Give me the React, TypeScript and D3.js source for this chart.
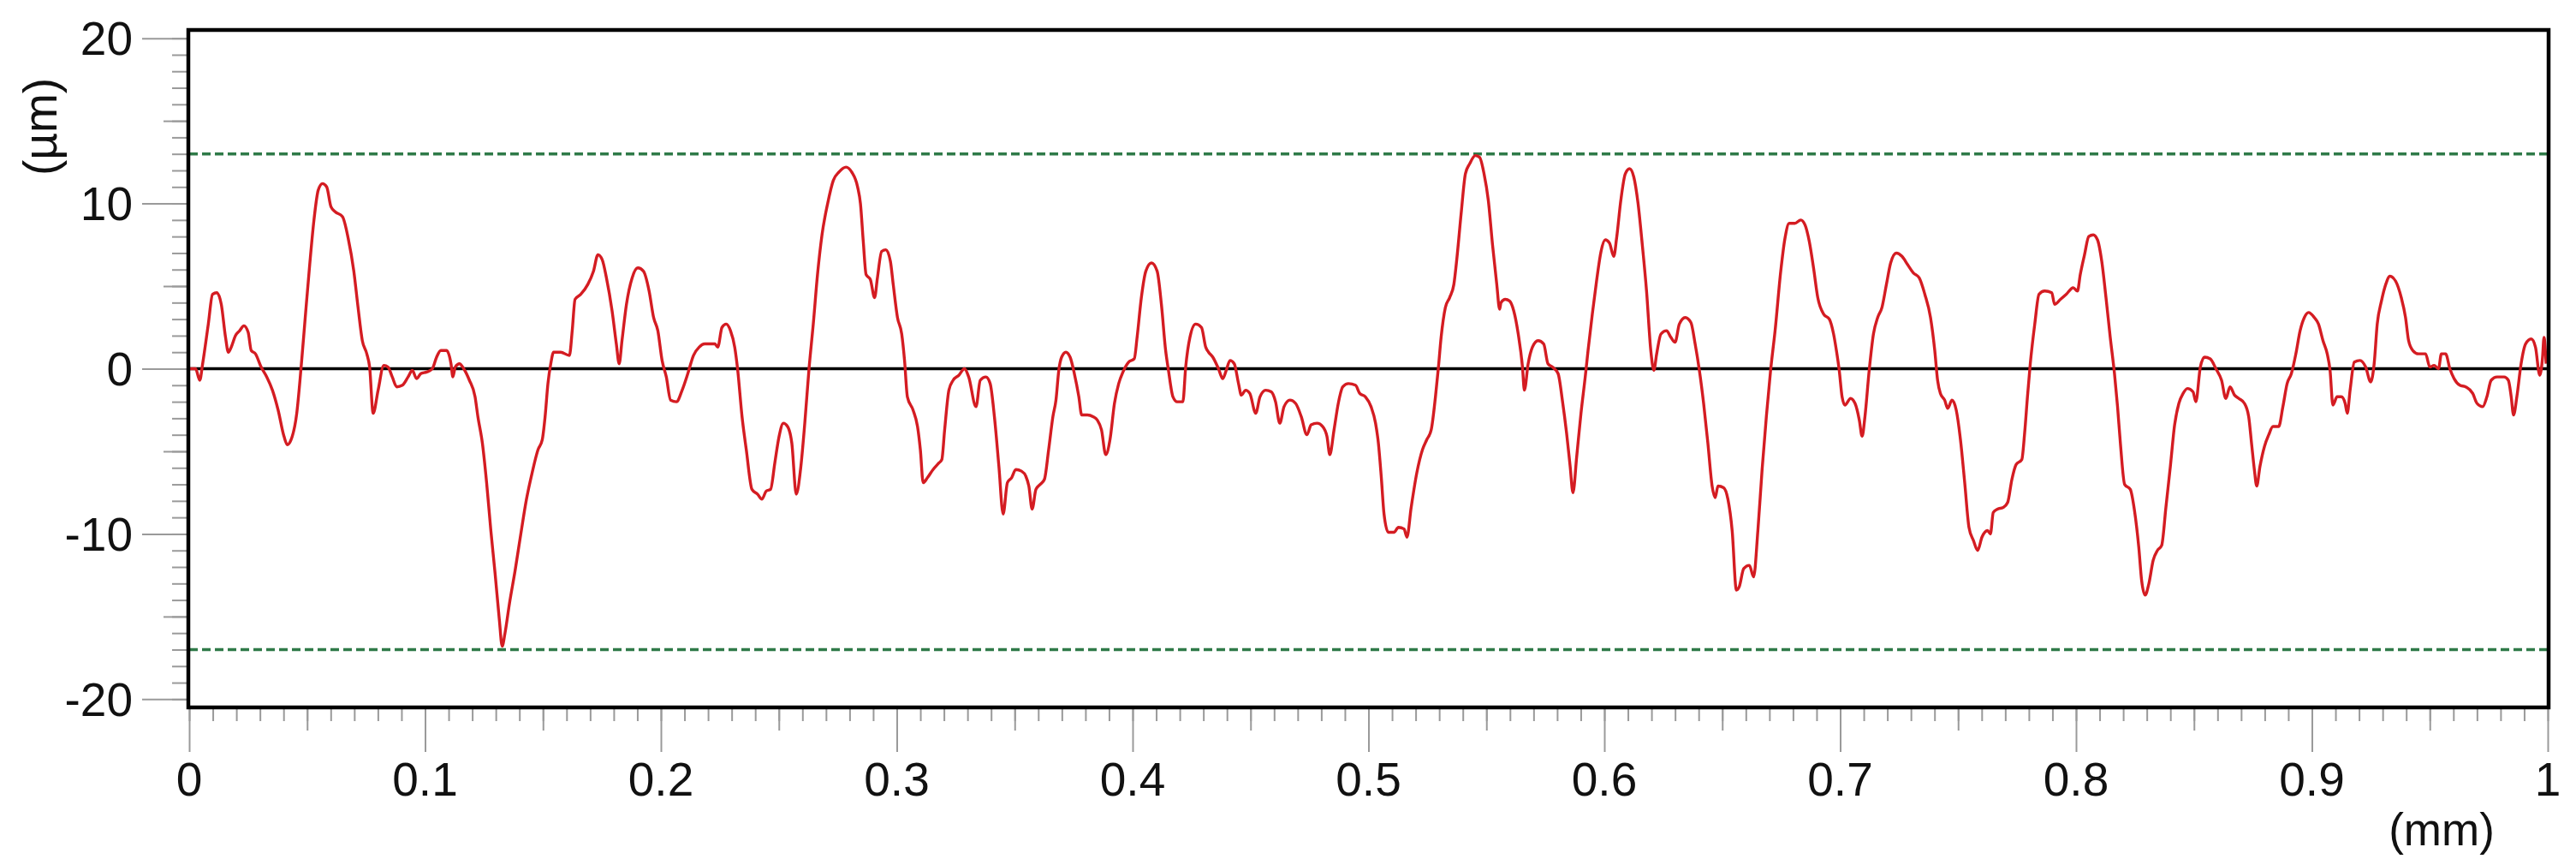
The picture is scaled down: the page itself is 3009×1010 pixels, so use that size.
import * as d3 from 'd3';
import React, { useEffect } from 'react';

// roughness profile, x in mm, height in µm
const profile: [number, number][] = [
  [0, 0], [0.0027, 0], [0.0045, -0.7], [0.0057, 0.3], [0.0081, 2.7], [0.0099, 4.5], [0.0117, 4.6], [0.0136, 3.9],
  [0.0154, 1.9], [0.0166, 1.0], [0.0178, 1.3], [0.0196, 2.0], [0.0214, 2.3], [0.0232, 2.6], [0.025, 2.2], [0.0263, 1.1],
  [0.0281, 0.9], [0.0305, 0.1], [0.0329, -0.5], [0.0353, -1.3], [0.0377, -2.5], [0.0402, -4.1], [0.0416, -4.6], [0.0432, -4.3],
  [0.0456, -2.7], [0.0474, 0], [0.0492, 3.1], [0.0511, 6.3], [0.0529, 9.0], [0.0547, 10.8], [0.0565, 11.2], [0.0583, 11.0],
  [0.0601, 9.8], [0.0619, 9.5], [0.065, 9.2], [0.0674, 7.9], [0.0698, 5.9], [0.0716, 3.7], [0.0734, 1.7], [0.0753, 0.9],
  [0.0765, 0.1], [0.078, -2.7], [0.0801, -1.3], [0.0825, 0.2], [0.0843, 0.1], [0.0861, -0.5], [0.088, -1.1], [0.0904, -1.0],
  [0.0928, -0.5], [0.0946, -0.1], [0.0964, -0.6], [0.0982, -0.3], [0.1007, -0.2], [0.1031, 0], [0.1049, 0.7], [0.1067, 1.1],
  [0.1091, 1.1], [0.111, 0.3], [0.1118, -0.5], [0.1128, 0.1], [0.1146, 0.3], [0.1164, 0], [0.1188, -0.7], [0.1212, -1.7],
  [0.1224, -2.9], [0.1243, -4.5], [0.1261, -6.9], [0.1279, -9.8], [0.1297, -12.4], [0.1315, -15.2], [0.1327, -16.8], [0.1339, -16.0],
  [0.1358, -14.2], [0.1382, -12.2], [0.1406, -10.0], [0.143, -7.9], [0.1454, -6.3], [0.1479, -4.9], [0.1497, -4.3], [0.1509, -2.9],
  [0.1521, -0.9], [0.1533, 0.3], [0.1545, 1.0], [0.1575, 1.0], [0.1612, 0.8], [0.1624, 2.3], [0.1636, 4.2], [0.166, 4.5],
  [0.169, 5.1], [0.1714, 5.9], [0.1733, 6.9], [0.1751, 6.6], [0.1769, 5.5], [0.1793, 3.5], [0.1811, 1.5], [0.1823, 0.3],
  [0.1835, 1.7], [0.1854, 3.9], [0.1878, 5.5], [0.1902, 6.1], [0.1926, 5.9], [0.195, 4.7], [0.1969, 3.1], [0.1987, 2.3],
  [0.2005, 0.5], [0.2023, -0.5], [0.2041, -1.9], [0.2066, -2.0], [0.209, -1.3], [0.2114, -0.3], [0.2138, 0.8], [0.2162, 1.3],
  [0.2186, 1.5], [0.2229, 1.5], [0.2241, 1.3], [0.2259, 2.5], [0.2277, 2.7], [0.2295, 2.3], [0.2313, 1.3], [0.2325, 0],
  [0.2344, -2.9], [0.2362, -4.9], [0.2386, -7.3], [0.241, -7.6], [0.2428, -7.9], [0.2447, -7.4], [0.2465, -7.3], [0.2483, -5.7],
  [0.2501, -4.1], [0.2519, -3.3], [0.2537, -3.5], [0.2555, -4.5], [0.2574, -7.6], [0.2592, -6.1], [0.261, -3.3], [0.2628, 0],
  [0.2646, 2.7], [0.2664, 5.7], [0.2683, 8.1], [0.2707, 10.0], [0.2731, 11.4], [0.2755, 11.9], [0.2785, 12.2], [0.2809, 11.9],
  [0.2834, 11.0], [0.2846, 10.0], [0.2858, 7.7], [0.287, 5.7], [0.2888, 5.4], [0.2906, 4.3], [0.2918, 5.5], [0.2936, 7.1],
  [0.2954, 7.2], [0.2973, 6.5], [0.2985, 5.1], [0.3003, 3.1], [0.3021, 2.1], [0.3033, 0.5], [0.3045, -1.7], [0.3069, -2.5],
  [0.3088, -3.5], [0.31, -4.9], [0.3112, -6.9], [0.313, -6.6], [0.3154, -6.1], [0.3179, -5.7], [0.3191, -5.5], [0.3203, -3.7],
  [0.3221, -1.3], [0.3239, -0.7], [0.3263, -0.4], [0.3287, 0], [0.3305, -0.5], [0.3336, -2.3], [0.3354, -0.7], [0.3378, -0.5],
  [0.3396, -0.9], [0.3414, -2.9], [0.3433, -5.9], [0.3451, -8.8], [0.3469, -6.9], [0.3487, -6.6], [0.3505, -6.1], [0.3529, -6.2],
  [0.3547, -6.5], [0.356, -7.1], [0.3574, -8.5], [0.359, -7.3], [0.3608, -7.0], [0.3626, -6.7], [0.3644, -4.9], [0.3662, -2.9],
  [0.3675, -1.9], [0.3687, -0.1], [0.3699, 0.7], [0.3717, 1.0], [0.3735, 0.7], [0.3753, -0.3], [0.3772, -1.7], [0.3784, -2.8],
  [0.3808, -2.8], [0.3832, -2.9], [0.385, -3.1], [0.3868, -3.7], [0.3886, -5.2], [0.3904, -4.3], [0.3923, -2.1], [0.3941, -0.9],
  [0.3959, -0.2], [0.3983, 0.4], [0.4007, 0.6], [0.4019, 1.9], [0.4037, 4.3], [0.4056, 5.9], [0.408, 6.4], [0.4104, 5.9],
  [0.4122, 3.9], [0.414, 1.1], [0.4152, -0.1], [0.4171, -1.7], [0.4189, -2.0], [0.4213, -2.0], [0.4225, 0.1], [0.4243, 1.9],
  [0.4267, 2.7], [0.4292, 2.5], [0.431, 1.3], [0.4322, 1.0], [0.434, 0.7], [0.4364, 0], [0.4382, -0.6], [0.4397, -0.1],
  [0.4413, 0.5], [0.4431, 0.3], [0.4449, -0.9], [0.4461, -1.6], [0.4479, -1.3], [0.4497, -1.5], [0.4522, -2.7], [0.454, -1.7],
  [0.4564, -1.3], [0.4588, -1.4], [0.4606, -2.0], [0.4624, -3.3], [0.4642, -2.3], [0.4667, -1.9], [0.4691, -2.1], [0.4715, -2.9],
  [0.4739, -4.0], [0.4757, -3.4], [0.4782, -3.3], [0.4806, -3.5], [0.4824, -4.1], [0.4836, -5.2], [0.4854, -3.7], [0.4872, -2.1],
  [0.4891, -1.1], [0.4915, -0.9], [0.4945, -1.0], [0.4963, -1.5], [0.4987, -1.7], [0.5011, -2.3], [0.503, -3.3], [0.5042, -4.5],
  [0.5054, -6.5], [0.5066, -8.8], [0.5084, -9.9], [0.5108, -9.9], [0.5127, -9.6], [0.5151, -9.7], [0.5163, -10.2], [0.5181, -8.4],
  [0.5205, -6.3], [0.5229, -4.9], [0.5247, -4.3], [0.5266, -3.7], [0.5284, -1.7], [0.5296, 0], [0.5308, 1.9], [0.5326, 3.7],
  [0.5344, 4.3], [0.5362, 5.1], [0.5375, 6.7], [0.5393, 9.4], [0.5411, 11.8], [0.5429, 12.4], [0.5453, 12.9], [0.5471, 12.8],
  [0.549, 11.8], [0.5508, 10.2], [0.5526, 7.5], [0.5544, 5.1], [0.5556, 3.6], [0.5562, 4.0], [0.558, 4.2], [0.5598, 4.1],
  [0.5616, 3.5], [0.5635, 2.1], [0.5653, 0.1], [0.5661, -1.3], [0.5677, 0.3], [0.5695, 1.3], [0.5719, 1.7], [0.5743, 1.5],
  [0.5761, 0.3], [0.578, 0.1], [0.5804, -0.3], [0.5822, -1.9], [0.584, -3.9], [0.5855, -5.9], [0.5867, -7.5], [0.5883, -5.3],
  [0.5901, -2.7], [0.5919, -0.5], [0.5931, 1.1], [0.5949, 3.3], [0.5967, 5.3], [0.5986, 7.1], [0.6004, 7.8], [0.6022, 7.6],
  [0.604, 6.8], [0.6052, 7.9], [0.607, 10.2], [0.6089, 11.8], [0.6107, 12.1], [0.6125, 11.6], [0.6143, 10.0], [0.6161, 7.5],
  [0.6179, 4.7], [0.6197, 1.1], [0.621, -0.1], [0.6222, 0.9], [0.624, 2.1], [0.6264, 2.3], [0.6282, 1.9], [0.63, 1.6],
  [0.6318, 2.7], [0.6343, 3.1], [0.6367, 2.8], [0.6385, 1.5], [0.6403, -0.1], [0.6421, -2.1], [0.6439, -4.5], [0.6457, -7.1],
  [0.647, -7.8], [0.6482, -7.1], [0.6506, -7.2], [0.6524, -7.9], [0.6542, -9.8], [0.656, -13.4], [0.6572, -13.2], [0.6591, -12.1],
  [0.6615, -11.9], [0.6633, -12.6], [0.6651, -9.8], [0.6669, -6.1], [0.6687, -2.9], [0.6705, -0.1], [0.6724, 2.3], [0.6748, 5.9],
  [0.6766, 7.9], [0.6784, 8.8], [0.6808, 8.8], [0.6833, 9.0], [0.6851, 8.7], [0.6869, 7.7], [0.6887, 6.1], [0.6905, 4.3],
  [0.693, 3.3], [0.6954, 3.0], [0.6972, 2.1], [0.6984, 1.1], [0.6996, -0.1], [0.7008, -1.7], [0.702, -2.2], [0.7044, -1.8],
  [0.7063, -2.1], [0.7081, -3.1], [0.7093, -4.1], [0.7105, -2.9], [0.7123, -0.1], [0.7141, 2.1], [0.7159, 3.1], [0.7177, 3.7],
  [0.7196, 5.1], [0.7214, 6.4], [0.7238, 7.0], [0.7262, 6.8], [0.7286, 6.3], [0.731, 5.8], [0.7335, 5.5], [0.7359, 4.5],
  [0.7383, 3.1], [0.7401, 1.1], [0.7413, -0.7], [0.7425, -1.5], [0.7443, -1.9], [0.7456, -2.4], [0.7474, -1.9], [0.7492, -2.5],
  [0.751, -4.3], [0.7528, -6.9], [0.7546, -9.6], [0.7565, -10.4], [0.7583, -11.0], [0.7601, -10.2], [0.7625, -9.8], [0.7637, -10.0],
  [0.7649, -8.7], [0.7667, -8.5], [0.7691, -8.4], [0.771, -8.1], [0.7728, -6.7], [0.7746, -5.8], [0.777, -5.5], [0.7782, -3.9],
  [0.7794, -1.7], [0.7806, 0.3], [0.7825, 2.7], [0.7843, 4.5], [0.7867, 4.7], [0.7897, 4.6], [0.7909, 3.9], [0.7934, 4.2],
  [0.7958, 4.5], [0.7988, 4.9], [0.8006, 4.7], [0.8018, 5.7], [0.8036, 6.9], [0.8054, 8.0], [0.8073, 8.1], [0.8091, 7.8],
  [0.8109, 6.5], [0.8127, 4.3], [0.8145, 1.9], [0.8163, -0.3], [0.8176, -2.3], [0.8188, -4.5], [0.8206, -7.0], [0.823, -7.3],
  [0.8248, -8.6], [0.8266, -10.8], [0.8278, -12.8], [0.8293, -13.7], [0.8309, -13.0], [0.8327, -11.6], [0.8345, -11.0], [0.8363, -10.7],
  [0.8381, -8.4], [0.84, -5.9], [0.8418, -3.4], [0.8436, -2.1], [0.8454, -1.5], [0.8472, -1.2], [0.8496, -1.4], [0.8508, -2.0],
  [0.8527, 0.1], [0.8545, 0.7], [0.8569, 0.6], [0.8593, 0], [0.8617, -0.7], [0.8635, -1.8], [0.8653, -1.1], [0.8672, -1.6],
  [0.869, -1.8], [0.8714, -2.1], [0.8732, -2.9], [0.8744, -4.5], [0.8756, -6.1], [0.8766, -7.1], [0.878, -5.9], [0.8799, -4.7],
  [0.8817, -4.0], [0.8835, -3.5], [0.8859, -3.5], [0.8877, -2.3], [0.8895, -0.9], [0.8913, -0.3], [0.8932, 0.9], [0.895, 2.3],
  [0.8968, 3.1], [0.8986, 3.4], [0.901, 3.1], [0.9028, 2.7], [0.9047, 1.7], [0.9065, 0.9], [0.9077, -0.1], [0.9089, -2.2],
  [0.9107, -1.7], [0.9125, -1.7], [0.9141, -2.1], [0.915, -2.7], [0.9162, -1.3], [0.918, 0.4], [0.9204, 0.5], [0.9228, 0.1],
  [0.9249, -0.8], [0.9264, 0.3], [0.9277, 2.7], [0.9295, 4.1], [0.9313, 5.1], [0.9331, 5.6], [0.9355, 5.3], [0.9379, 4.3],
  [0.9397, 3.1], [0.941, 1.7], [0.9428, 1.1], [0.9452, 0.9], [0.9482, 0.9], [0.95, 0.1], [0.9518, 0.2], [0.9537, 0],
  [0.9549, 0.9], [0.9567, 0.9], [0.9585, 0], [0.9603, -0.6], [0.9627, -1.0], [0.9652, -1.1], [0.9682, -1.5], [0.97, -2.1],
  [0.9724, -2.3], [0.9742, -1.7], [0.976, -0.7], [0.9785, -0.5], [0.9815, -0.5], [0.9833, -0.7], [0.9845, -1.7], [0.9855, -2.8],
  [0.9869, -1.7], [0.9887, 0.3], [0.9906, 1.5], [0.993, 1.8], [0.9948, 1.3], [0.9966, -0.4], [0.9978, 0.7], [0.9984, 1.9],
  [0.9993, 0.3],
];

const xTickValues = [0, 0.1, 0.2, 0.3, 0.4, 0.5, 0.6, 0.7, 0.8, 0.9, 1];
const xTickLabels = ['0', '0.1', '0.2', '0.3', '0.4', '0.5', '0.6', '0.7', '0.8', '0.9', '1'];
const yTickValues = [-20, -10, 0, 10, 20];
const yTickLabels = ['-20', '-10', '0', '10', '20'];
const limitLines = [13, -17]; // green dashed peak / valley limits

const FONT = "'Liberation Sans', Arial, sans-serif";

export function doChart(width: number, height: number, chart_name: string) {
  const x = d3.scaleLinear().domain([0, 1]).range([221, 2976]);
  const y = d3.scaleLinear().domain([-20.5, 20.5]).range([826, 35]);

  const wrapper = d3.select('#' + chart_name);
  wrapper.select('svg').remove();
  const svg = wrapper.append('svg')
    .attr('width', width)
    .attr('height', height)
    .style('position', 'absolute')
    .style('left', 0)
    .style('top', 0)
    .style('background', '#fff');

  // x axis ticks: minor every 0.01, mid at 0.05, major at 0.1
  const xMinor = d3.range(0, 101).map(i => i / 100);
  const xMid = d3.range(0, 10).map(i => i / 10 + 0.05);
  const xAxisGroups: [number[], number][] = [[xMinor, 14], [xMid, 25], [xTickValues, 50]];
  xAxisGroups.forEach(([vals, size]) => {
    svg.append('g')
      .attr('transform', 'translate(0,828)')
      .call(d3.axisBottom(x).tickValues(vals).tickSize(size).tickFormat(() => ''))
      .call(g => g.select('.domain').remove())
      .call(g => g.selectAll('line').attr('stroke', '#9a9a9a').attr('stroke-width', 2));
  });

  // y axis ticks: minor every 1, mid at 5s, major at 10s
  const yMinor = d3.range(-20, 21);
  const yMid = [-15, -5, 5, 15];
  const yAxisGroups: [number[], number][] = [[yMinor, 17], [yMid, 27], [yTickValues, 52]];
  yAxisGroups.forEach(([vals, size]) => {
    svg.append('g')
      .attr('transform', 'translate(218,0)')
      .call(d3.axisLeft(y).tickValues(vals).tickSize(size).tickFormat(() => ''))
      .call(g => g.select('.domain').remove())
      .call(g => g.selectAll('line').attr('stroke', '#9a9a9a').attr('stroke-width', 2));
  });

  svg.append('g').selectAll('text')
    .data(xTickValues)
    .join('text')
    .attr('x', d => x(d))
    .attr('y', 929)
    .attr('text-anchor', 'middle')
    .attr('font-family', FONT)
    .attr('font-size', 55)
    .attr('fill', '#111')
    .text((d, i) => xTickLabels[i]);

  svg.append('g').selectAll('text')
    .data(yTickValues)
    .join('text')
    .attr('x', 155)
    .attr('y', d => y(d))
    .attr('dy', '0.36em')
    .attr('text-anchor', 'end')
    .attr('font-family', FONT)
    .attr('font-size', 55)
    .attr('fill', '#111')
    .text((d, i) => yTickLabels[i]);

  svg.append('text')
    .attr('transform', 'translate(66,148) rotate(-90)')
    .attr('text-anchor', 'middle')
    .attr('font-family', FONT)
    .attr('font-size', 55)
    .attr('fill', '#111')
    .text('(µm)');

  svg.append('text')
    .attr('x', 2852)
    .attr('y', 987)
    .attr('text-anchor', 'middle')
    .attr('font-family', FONT)
    .attr('font-size', 53)
    .attr('fill', '#111')
    .text('(mm)');

  // limit lines
  svg.append('g').selectAll('line')
    .data(limitLines)
    .join('line')
    .attr('x1', x(0))
    .attr('x2', x(1))
    .attr('y1', d => y(d))
    .attr('y2', d => y(d))
    .attr('stroke', '#2f7a48')
    .attr('stroke-width', 3.5)
    .attr('stroke-dasharray', '10,5');

  // mean line
  svg.append('line')
    .attr('x1', x(0))
    .attr('x2', x(1))
    .attr('y1', y(0))
    .attr('y2', y(0))
    .attr('stroke', '#000')
    .attr('stroke-width', 3.5);

  const line = d3.line<[number, number]>()
    .x(d => x(d[0]))
    .y(d => y(d[1]))
    .curve(d3.curveMonotoneX);

  svg.append('path')
    .datum(profile)
    .attr('fill', 'none')
    .attr('stroke', '#d41c22')
    .attr('stroke-width', 3.4)
    .attr('stroke-linejoin', 'round')
    .attr('d', line);

  // frame
  svg.append('rect')
    .attr('x', 220)
    .attr('y', 35)
    .attr('width', 2757)
    .attr('height', 791)
    .attr('fill', 'none')
    .attr('stroke', '#000')
    .attr('stroke-width', 4.5);
}

function App() {
  const width = 3009;
  const height = 1010;
  useEffect(() => doChart(width, height, 'profile_chart'));
  return <div id="profile_chart"></div>;
}

export default App;
